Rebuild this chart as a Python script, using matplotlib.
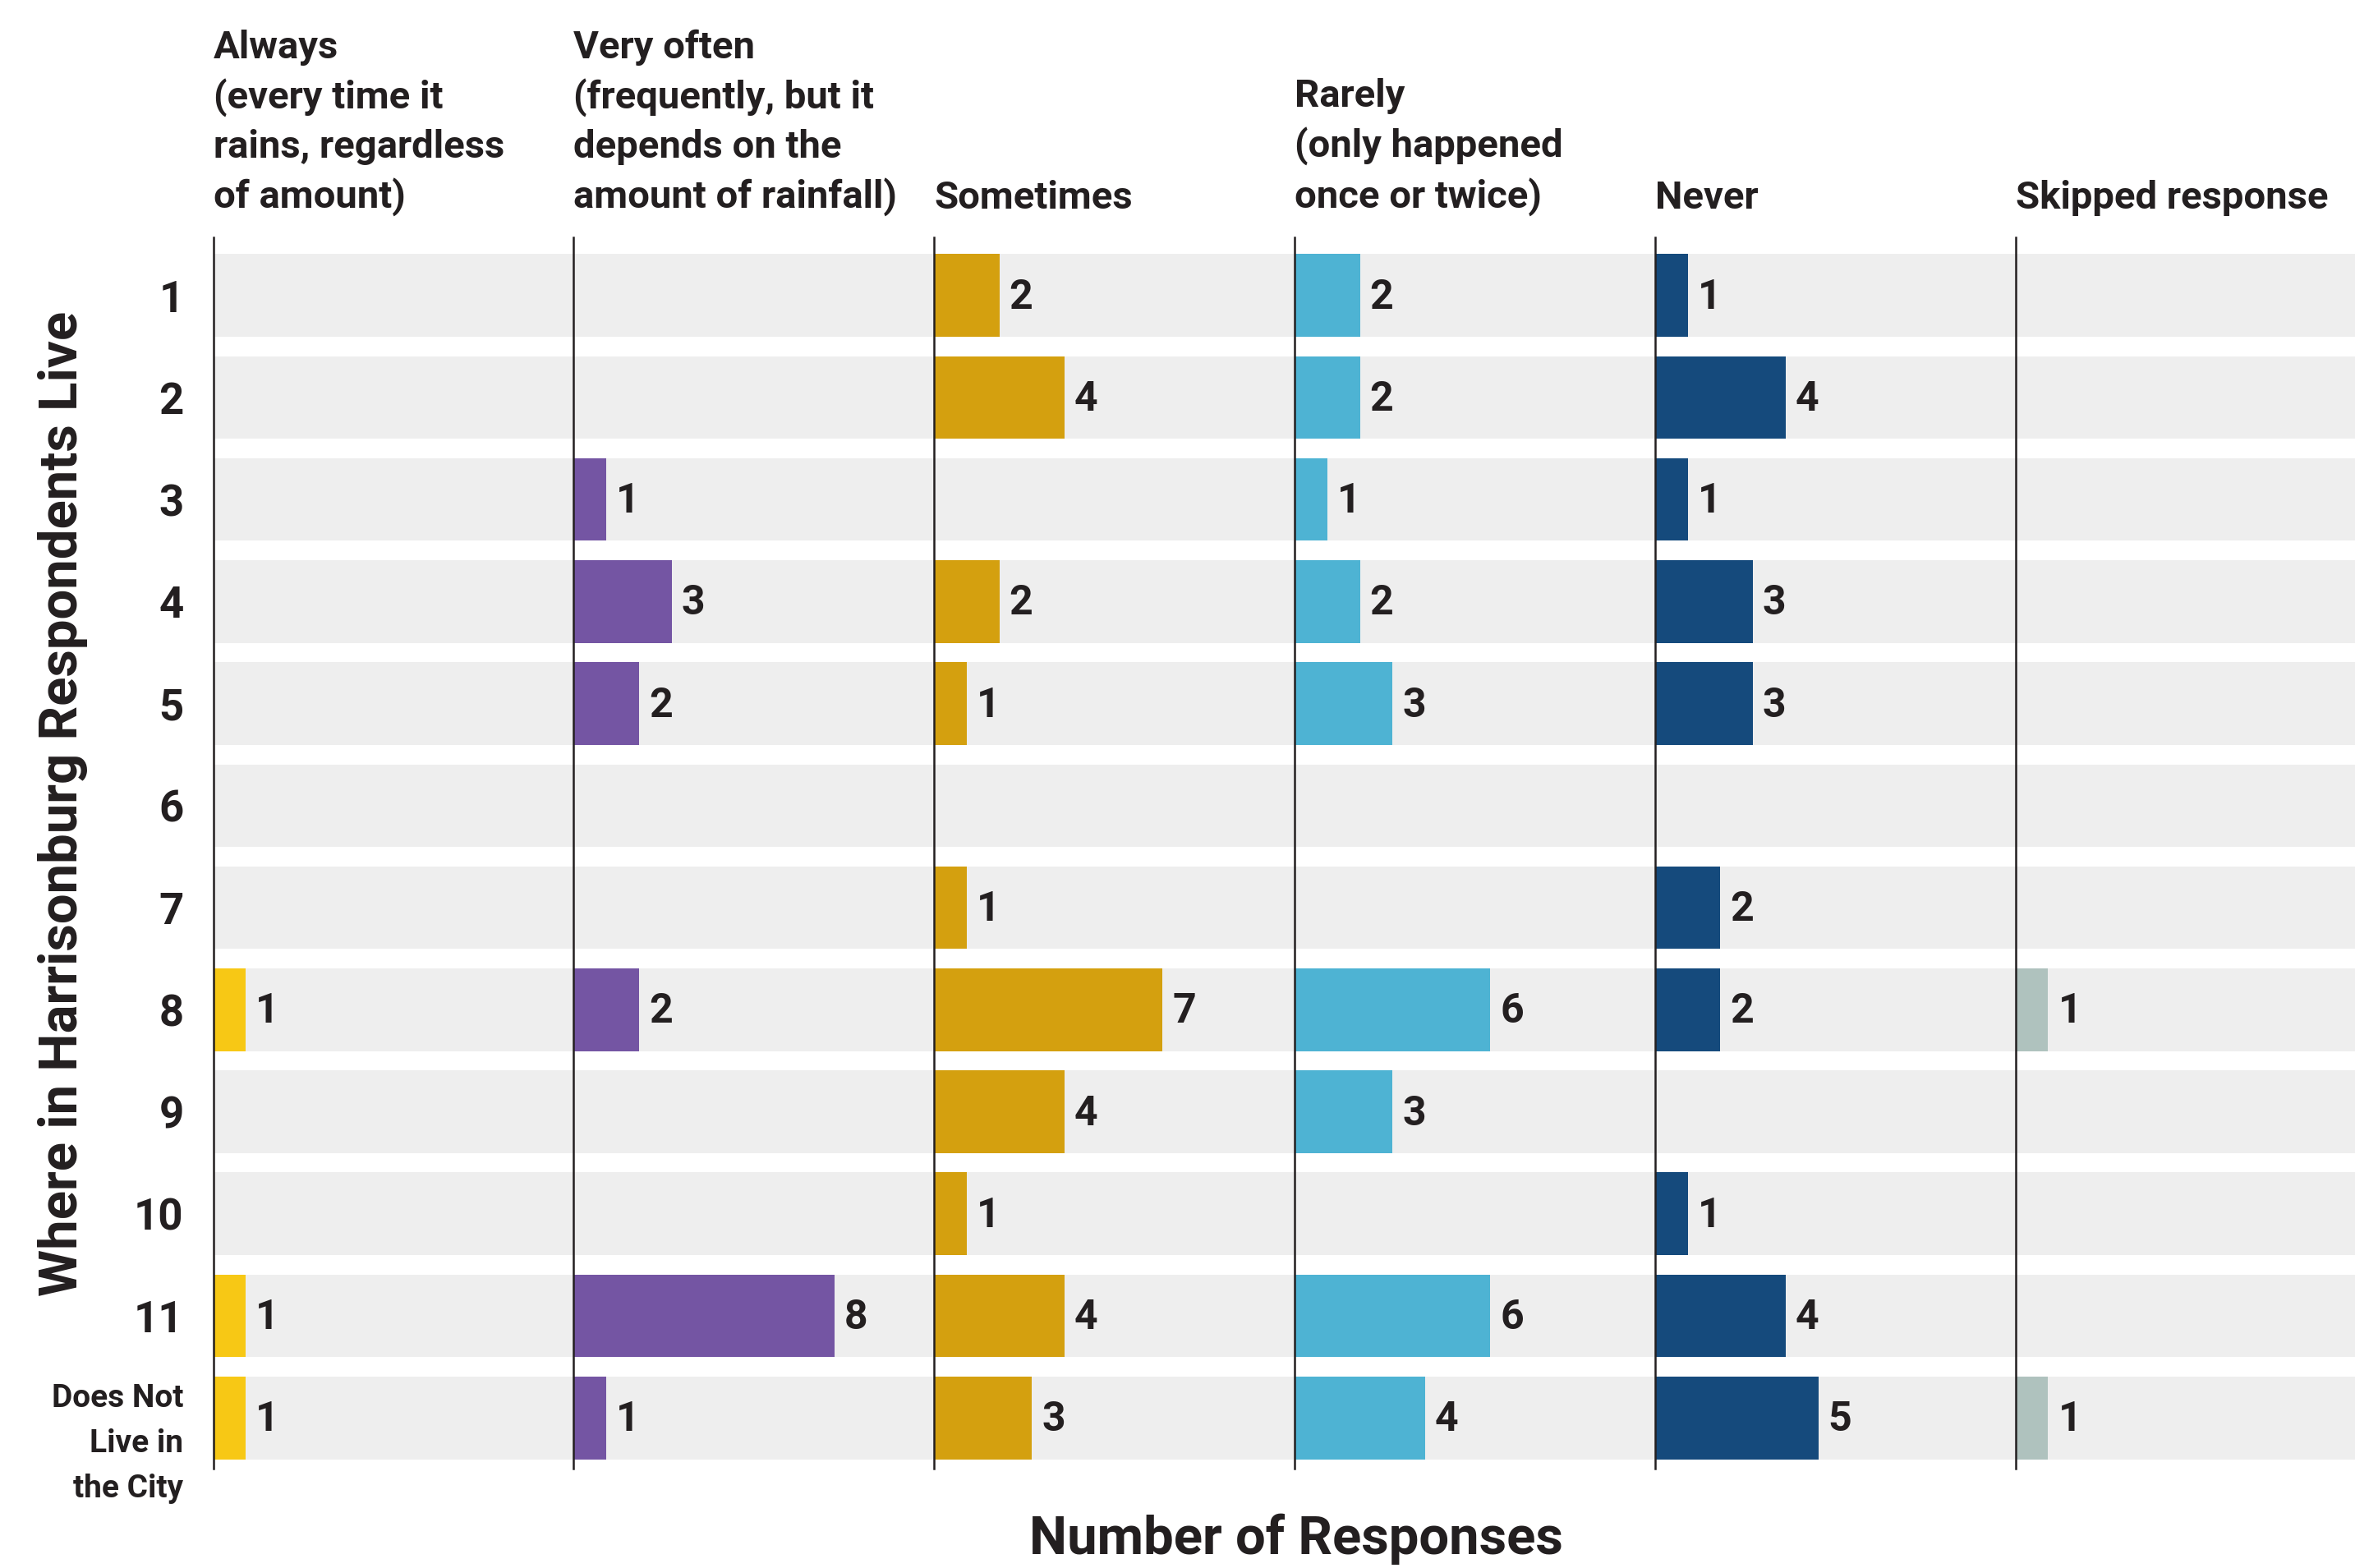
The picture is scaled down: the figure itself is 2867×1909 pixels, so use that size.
import matplotlib
matplotlib.use("Agg")
import matplotlib.pyplot as plt
import numpy as np

plt.rcParams['font.family'] = ['Roboto', 'DejaVu Sans']
plt.rcParams['font.weight'] = 'bold'

rows = ['1', '2', '3', '4', '5', '6', '7', '8', '9', '10', '11', 'Does Not\nLive in\nthe City']
headers = [
    'Always\n(every time it\nrains, regardless\nof amount)',
    'Very often\n(frequently, but it\ndepends on the\namount of rainfall)',
    'Sometimes',
    'Rarely\n(only happened\nonce or twice)',
    'Never',
    'Skipped response',
]
always = [0, 0, 0, 0, 0, 0, 0, 1, 0, 0, 1, 1]
very_often = [0, 0, 1, 3, 2, 0, 0, 2, 0, 0, 8, 1]
sometimes = [2, 4, 0, 2, 1, 0, 1, 7, 4, 1, 4, 3]
rarely = [2, 2, 1, 2, 3, 0, 0, 6, 3, 0, 6, 4]
never = [1, 4, 1, 3, 3, 0, 2, 2, 0, 1, 4, 5]
skipped = [0, 0, 0, 0, 0, 0, 0, 1, 0, 0, 0, 1]

series = [always, very_often, sometimes, rarely, never, skipped]
colors = ['#F7C815', '#7455A3', '#D4A00F', '#4EB3D3', '#154A7C', '#AFC2BE']

TXT = '#231F20'
W, H = 1568, 1044  # layout measured on the reduced reference
XMAX = 11.05

fig = plt.figure(figsize=(28.67, 19.09), dpi=100)

y = np.arange(len(rows))
for i, (vals, col) in enumerate(zip(series, colors)):
    ax = fig.add_axes([(142 + 240 * i) / W, 1 - 978 / H, 240 / W, 820 / H])
    ax.barh(y, [XMAX] * len(rows), height=0.81, color='#EEEEEE', zorder=0)
    ax.barh(y, vals, height=0.81, color=col, zorder=2)
    for yy, v in zip(y, vals):
        if v > 0:
            ax.text(v + 0.3, yy + 0.02, str(v), va='center', ha='left',
                    fontsize=36, color=TXT, fontweight='bold')
    ax.set_xlim(0, XMAX)
    ax.set_ylim(11.5, -0.57)
    for s in ['top', 'right', 'bottom']:
        ax.spines[s].set_visible(False)
    ax.spines['left'].set_color(TXT)
    ax.spines['left'].set_linewidth(1.8)
    ax.set_xticks([])
    ax.tick_params(axis='y', length=0)
    if i == 0:
        ax.set_yticks(y[:-1])
        ax.set_yticklabels(rows[:-1], fontsize=38, color=TXT, fontweight='bold')
        ax.tick_params(axis='y', pad=26)
        # last row label sits a bit lower than the row centre
        ax.text(-20 / 240, y[-1] + 0.25, rows[-1], transform=ax.get_yaxis_transform(),
                ha='right', va='center', fontsize=28, color=TXT, fontweight='bold',
                linespacing=1.62)
    else:
        ax.set_yticks([])
    fig.text((142 + 240 * i) / W, 1 - 144 / H, headers[i], ha='left', va='bottom',
             fontsize=34, color=TXT, fontweight='bold', linespacing=1.42)

fig.text(42 / W, 1 - 535 / H, 'Where in Harrisonburg Respondents Live', rotation=90,
         ha='center', va='center', fontsize=47, color=TXT, fontweight='bold')
fig.text(863 / W, 1 - 1025 / H, 'Number of Responses', ha='center', va='center',
         fontsize=47, color=TXT, fontweight='bold')

fig.savefig('out.png', dpi=100, facecolor='white')
